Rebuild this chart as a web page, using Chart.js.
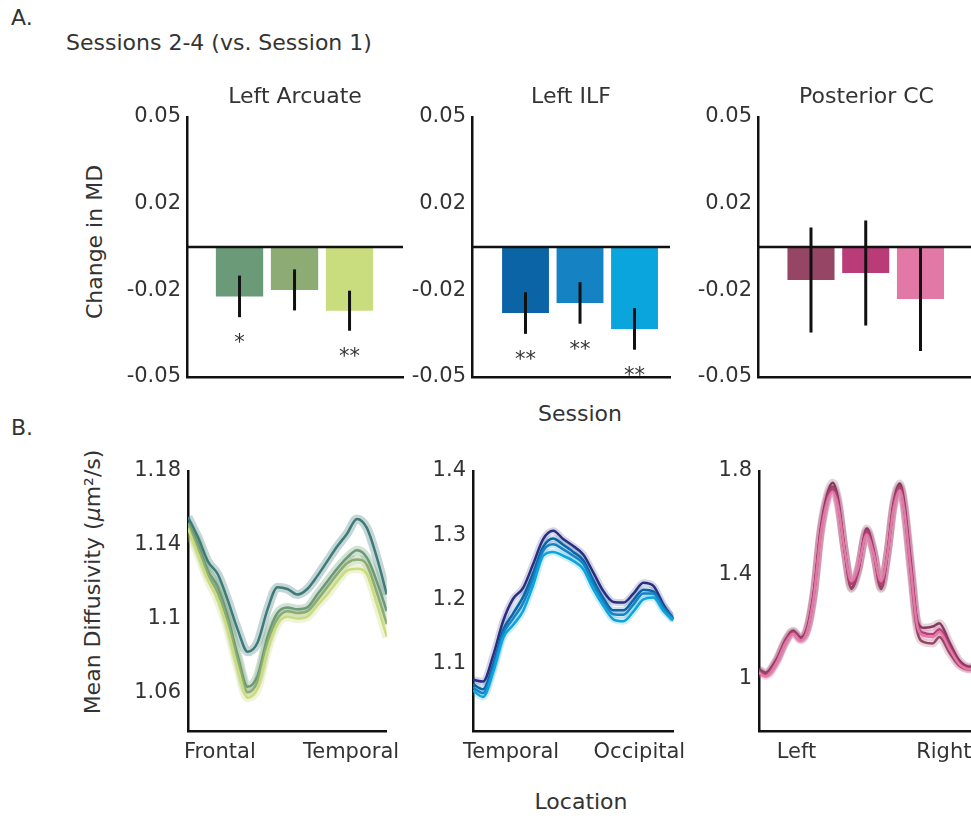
<!DOCTYPE html>
<html lang="en">
<head>
<meta charset="UTF-8">
<title>Change in MD and mean diffusivity across sessions</title>
<script src="https://cdn.jsdelivr.net/npm/chart.js"></script>
<style>
  body { margin: 0; width: 971px; height: 822px; overflow: hidden; position: relative; background: #fff;
         font-family: 'DejaVu Sans', sans-serif; color: #333; }
  canvas { position: absolute; }
  .lbl { position: absolute; font-size: 22px; line-height: 22px; white-space: nowrap; }
  .mid { transform: translateX(-50%); }
  .vlbl { position: absolute; font-size: 22px; line-height: 22px; white-space: nowrap;
          transform: translate(-50%, -50%) rotate(-90deg); }
</style>
</head>
<body>
<div class="lbl" style="left:11px; top:7px;">A.</div>
<div class="lbl" style="left:66px; top:32px;">Sessions 2-4 (vs. Session 1)</div>
<div class="lbl" style="left:11px; top:417px;">B.</div>
<div class="lbl mid" style="left:580px; top:403px;">Session</div>
<div class="lbl mid" style="left:581px; top:791px;">Location</div>
<div class="vlbl" style="left:95px; top:242px;">Change in MD</div>
<div class="vlbl" style="left:93px; top:582px;">Mean Diffusivity (<i>μ</i>m²/s)</div>

<canvas id="barArcuate" width="331" height="360" style="left:77px; top:57px;"></canvas>
<canvas id="barIlf" width="313" height="360" style="left:362px; top:57px;"></canvas>
<canvas id="barCc" width="332" height="360" style="left:648px; top:57px;"></canvas>
<canvas id="lineArcuate" width="331" height="335" style="left:78px; top:441px;"></canvas>
<canvas id="lineIlf" width="332" height="335" style="left:363px; top:441px;"></canvas>
<canvas id="lineCc" width="335" height="335" style="left:649px; top:441px;"></canvas>

<script>
Chart.defaults.font.family = "'DejaVu Sans', sans-serif";
Chart.defaults.font.size = 21;
Chart.defaults.color = '#333';

// ---- A. change in MD, sessions 2-4 vs session 1
const sessionNums = [2, 3, 4];
const changeTicks = [-0.05, -0.0167, 0.0167, 0.05];
const changeTickLabels = ['-0.05', '-0.02', '0.02', '0.05'];

const arcuateChange = [-0.0190, -0.0165, -0.0245];
const arcuateErr = [0.0080, 0.0079, 0.0077];
const arcuateSig = ['*', '', '**'];

const ilfChange = [-0.0254, -0.0215, -0.0315];
const ilfErr = [0.0080, 0.0080, 0.0080];
const ilfSig = ['**', '**', '**'];

const ccChange = [-0.0127, -0.0100, -0.0200];
const ccErr = [0.0202, 0.0202, 0.0200];
const ccSig = ['', '', ''];

// ---- B. mean diffusivity along each tract, sessions 1-4
const nodes = [0, 5, 10, 15, 20, 25, 30, 35, 40, 45, 50, 55, 60, 65, 70, 75, 80, 85, 90, 95, 100];

const arcS1 = [1.155, 1.144, 1.131, 1.124, 1.110, 1.094, 1.082, 1.087, 1.105, 1.117, 1.116, 1.113, 1.116, 1.123, 1.131, 1.139, 1.146, 1.154, 1.149, 1.133, 1.113];
const arcS2 = [1.152, 1.141, 1.126, 1.117, 1.101, 1.080, 1.063, 1.069, 1.090, 1.103, 1.106, 1.105, 1.106, 1.113, 1.120, 1.127, 1.133, 1.137, 1.133, 1.120, 1.104];
const arcS3 = [1.151, 1.138, 1.124, 1.114, 1.098, 1.077, 1.060, 1.066, 1.087, 1.100, 1.104, 1.103, 1.104, 1.110, 1.117, 1.124, 1.130, 1.132, 1.129, 1.114, 1.097];
const arcS4 = [1.149, 1.135, 1.121, 1.110, 1.094, 1.073, 1.057, 1.062, 1.083, 1.097, 1.101, 1.100, 1.101, 1.107, 1.113, 1.120, 1.126, 1.127, 1.124, 1.108, 1.090];

const ilfS1 = [1.075, 1.072, 1.112, 1.166, 1.201, 1.218, 1.255, 1.294, 1.307, 1.294, 1.283, 1.270, 1.242, 1.213, 1.196, 1.195, 1.209, 1.226, 1.221, 1.192, 1.169];
const ilfS2 = [1.068, 1.060, 1.098, 1.152, 1.178, 1.204, 1.241, 1.282, 1.295, 1.285, 1.274, 1.261, 1.230, 1.202, 1.183, 1.183, 1.199, 1.215, 1.212, 1.189, 1.170];
const ilfS3 = [1.063, 1.054, 1.092, 1.146, 1.170, 1.194, 1.233, 1.276, 1.286, 1.278, 1.268, 1.256, 1.224, 1.197, 1.177, 1.176, 1.192, 1.209, 1.209, 1.186, 1.169];
const ilfS4 = [1.058, 1.048, 1.086, 1.140, 1.160, 1.182, 1.222, 1.268, 1.274, 1.268, 1.260, 1.247, 1.216, 1.190, 1.169, 1.166, 1.181, 1.200, 1.203, 1.182, 1.167];

const ccNodes = [0, 3, 8, 12, 15.5, 19, 22, 25, 28, 31, 33.5, 36, 39, 42, 45, 49, 52, 55.5, 58.5, 61, 64, 66, 69, 72, 75, 79, 82, 86.5, 91, 96, 100];
const ccS1 = [1.035, 1.022, 1.074, 1.148, 1.184, 1.158, 1.20, 1.34, 1.575, 1.71, 1.755, 1.69, 1.49, 1.35, 1.415, 1.578, 1.50, 1.35, 1.49, 1.67, 1.752, 1.68, 1.45, 1.22, 1.195, 1.20, 1.213, 1.14, 1.07, 1.045, 1.045];
const ccS2 = [1.030, 1.017, 1.068, 1.142, 1.180, 1.152, 1.19, 1.33, 1.565, 1.695, 1.74, 1.675, 1.49, 1.345, 1.41, 1.570, 1.49, 1.345, 1.485, 1.66, 1.742, 1.66, 1.41, 1.18, 1.14, 1.135, 1.16, 1.10, 1.05, 1.035, 1.04];
const ccS3 = [1.028, 1.014, 1.066, 1.140, 1.176, 1.150, 1.19, 1.33, 1.56, 1.69, 1.73, 1.67, 1.49, 1.365, 1.42, 1.565, 1.49, 1.365, 1.49, 1.655, 1.735, 1.66, 1.43, 1.21, 1.175, 1.17, 1.19, 1.125, 1.06, 1.04, 1.04];
const ccS4 = [1.022, 1.008, 1.060, 1.135, 1.172, 1.146, 1.185, 1.32, 1.55, 1.68, 1.72, 1.66, 1.49, 1.375, 1.425, 1.555, 1.485, 1.375, 1.485, 1.645, 1.725, 1.65, 1.42, 1.20, 1.165, 1.16, 1.18, 1.115, 1.055, 1.035, 1.035];

// colours: session 1 first, then sessions 2-4
const greens = ['#3d7a78', '#6a9a78', '#8cac73', '#c9dc7e'];
const blues = ['#2a2e80', '#0a64a5', '#1482c3', '#0aa5dc'];
const pinks = ['#86395e', '#964664', '#b93c78', '#e178a5'];

function rgba(hex, a) {
  const n = parseInt(hex.slice(1), 16);
  return `rgba(${n >> 16}, ${(n >> 8) & 255}, ${n & 255}, ${a})`;
}

// zero line, error bars, significance stars and panel title
const barDecor = {
  id: 'barDecor',
  afterDatasetsDraw(chart, args, opts) {
    const { ctx, chartArea, scales: { x, y } } = chart;
    ctx.save();
    ctx.strokeStyle = '#111';
    ctx.lineWidth = 2.5;
    const y0 = y.getPixelForValue(0);
    ctx.beginPath();
    ctx.moveTo(chartArea.left, y0);
    ctx.lineTo(chartArea.right, y0);
    ctx.stroke();

    ctx.lineWidth = 3;
    ctx.fillStyle = '#333';
    ctx.textAlign = 'center';
    ctx.font = "21px 'DejaVu Sans'";
    chart.data.datasets[0].data.forEach((p, i) => {
      const px = x.getPixelForValue(p.x);
      const top = y.getPixelForValue(p.y + opts.errs[i]);
      const bot = y.getPixelForValue(p.y - opts.errs[i]);
      ctx.beginPath();
      ctx.moveTo(px, top);
      ctx.lineTo(px, bot);
      ctx.stroke();
      if (opts.sig[i]) ctx.fillText(opts.sig[i], px, bot + 32);
    });

    ctx.font = "22px 'DejaVu Sans'";
    ctx.textBaseline = 'middle';
    ctx.fillText(opts.title, (chartArea.left + chartArea.right) / 2, chartArea.top - 20);
    ctx.restore();
  }
};

function makeBarPanel(id, title, values, errs, sig, colors, xMin, xMax) {
  new Chart(document.getElementById(id), {
    type: 'bar',
    data: {
      datasets: [{
        data: sessionNums.map((s, i) => ({ x: i + 1, y: values[i] })),
        backgroundColor: colors.slice(1),
        borderWidth: 0,
        barPercentage: 0.86,
        categoryPercentage: 1
      }]
    },
    options: {
      responsive: false,
      animation: false,
      layout: { padding: { top: 60, right: 5, left: 0, bottom: 0 } },
      plugins: {
        legend: { display: false },
        tooltip: { enabled: false },
        barDecor: { title: title, errs: errs, sig: sig }
      },
      scales: {
        x: {
          type: 'linear', min: xMin, max: xMax, offset: false,
          grid: { display: false, drawTicks: false },
          ticks: { display: false },
          border: { color: '#111', width: 2.5 },
          afterFit: s => { s.height = 40; }
        },
        y: {
          min: -0.05, max: 0.05,
          grid: { display: false, drawTicks: false },
          border: { color: '#111', width: 2.5 },
          ticks: { padding: 6, callback: (v, i) => changeTickLabels[i] },
          afterBuildTicks: s => { s.ticks = changeTicks.map(v => ({ value: v })); },
          afterFit: s => { s.width = 110; }
        }
      }
    },
    plugins: [barDecor]
  });
}

function makeLinePanel(id, xNodes, series, colors, yRange, yTicks, yLabels, xTicks, xLabels, band) {
  const datasets = [];
  series.forEach((vals, i) => {
    datasets.push({
      data: xNodes.map((n, j) => ({ x: n, y: vals[j] })),
      borderColor: colors[i], borderWidth: 2.5, pointRadius: 0,
      cubicInterpolationMode: 'monotone', order: series.length - i
    });
    datasets.push({
      data: xNodes.map((n, j) => ({ x: n, y: vals[j] })),
      borderColor: rgba(colors[i], band.alpha), borderWidth: band.width, pointRadius: 0,
      cubicInterpolationMode: 'monotone', order: 20 + series.length - i
    });
  });
  new Chart(document.getElementById(id), {
    type: 'line',
    data: { datasets: datasets },
    options: {
      responsive: false,
      animation: false,
      layout: { padding: { top: 30, right: 5, left: 0, bottom: 0 } },
      plugins: { legend: { display: false }, tooltip: { enabled: false } },
      scales: {
        x: {
          type: 'linear', min: 0, max: 100,
          grid: { display: false, drawTicks: false },
          border: { color: '#111', width: 2.5 },
          ticks: { padding: 9, maxRotation: 0, autoSkip: false, callback: (v, i) => xLabels[i] },
          afterBuildTicks: s => { s.ticks = xTicks.map(v => ({ value: v })); },
          afterFit: s => { s.height = 45; }
        },
        y: {
          min: yRange[0], max: yRange[1],
          grid: { display: false, drawTicks: false },
          border: { color: '#111', width: 2.5 },
          ticks: { padding: 7, callback: (v, i) => yLabels[i] },
          afterBuildTicks: s => { s.ticks = yTicks.map(v => ({ value: v })); },
          afterFit: s => { s.width = 110; }
        }
      }
    }
  });
}

makeBarPanel('barArcuate', 'Left Arcuate', arcuateChange, arcuateErr, arcuateSig, greens, 0.045, 3.972);
makeBarPanel('barIlf', 'Left ILF', ilfChange, ilfErr, ilfSig, blues, 0.018, 3.651);
makeBarPanel('barCc', 'Posterior CC', ccChange, ccErr, ccSig, pinks, 0.032, 3.996);

makeLinePanel('lineArcuate', nodes, [arcS1, arcS2, arcS3, arcS4], greens, [1.039, 1.18],
  [1.06, 1.1, 1.14, 1.18], ['1.06', '1.1', '1.14', '1.18'], [16, 82], ['Frontal', 'Temporal'],
  { width: 9, alpha: 0.3 });
makeLinePanel('lineIlf', nodes, [ilfS1, ilfS2, ilfS3, ilfS4], blues, [0.995, 1.4],
  [1.1, 1.2, 1.3, 1.4], ['1.1', '1.2', '1.3', '1.4'], [19, 83], ['Temporal', 'Occipital'],
  { width: 7, alpha: 0.2 });
makeLinePanel('lineCc', ccNodes, [ccS1, ccS2, ccS3, ccS4], pinks, [0.797, 1.8],
  [1, 1.4, 1.8], ['1', '1.4', '1.8'], [17, 84], ['Left', 'Right'],
  { width: 8, alpha: 0.22 });
</script>
</body>
</html>
